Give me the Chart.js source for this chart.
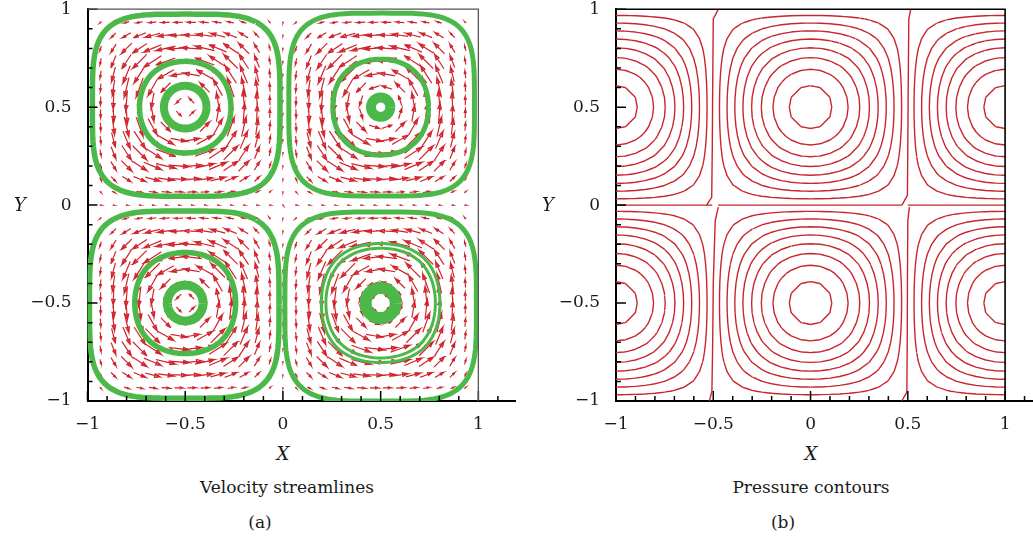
<!DOCTYPE html>
<html>
<head>
<meta charset="utf-8">
<script src="https://cdn.jsdelivr.net/npm/chart.js@4.4.0/dist/chart.umd.min.js"></script>
<style>
    body { margin: 0; width: 1033px; height: 542px; overflow: hidden; background: #fff; position: relative;
           font-family: "DejaVu Serif", "Liberation Serif", serif; color: #1a1a1a; }
    canvas { position: absolute; top: -9px; }
    .lbl { position: absolute; transform: translate(-50%, -50%); white-space: nowrap; font-size: 17px; }
    .ax { font-style: italic; font-size: 18px; }
</style>
</head>
<body>
<canvas id="streamChart" width="530" height="445" style="left:0"></canvas>
<canvas id="pressureChart" width="510" height="445" style="left:540px"></canvas>

<div class="lbl ax" style="left:20px;top:204px">Y</div>
<div class="lbl ax" style="left:548px;top:204px">Y</div>
<div class="lbl ax" style="left:283px;top:453px">X</div>
<div class="lbl ax" style="left:811px;top:453px">X</div>
<div class="lbl" style="left:287px;top:487px">Velocity streamlines</div>
<div class="lbl" style="left:811px;top:487px">Pressure contours</div>
<div class="lbl" style="left:260px;top:522px">(a)</div>
<div class="lbl" style="left:783px;top:522px">(b)</div>

<script>
// Vortex centres (upper-left, upper-right, lower-left, lower-right)
const vortexX = [-0.5, 0.5, -0.5, 0.5];
const vortexY = [0.5, 0.5, -0.5, -0.5];

// Outer (near-square) streamline of each vortex: centre and half extents
const outerX = [-0.495, 0.505, -0.505, 0.5];
const outerY = [0.51, 0.513, -0.508, -0.518];
const outerHalfW = [0.48, 0.475, 0.485, 0.49];
const outerHalfH = [0.465, 0.467, 0.478, 0.483];

// Inner streamline levels: middle circle(s), inner ring
const streamUL = [0.742, 0.942];
const streamUR = [0.718, 0.988];
const streamLL = [0.689, 0.959];
const streamLR = [0.578, 0.637, 0.971];

// Velocity vector grid
const arrowX = [-0.933, -0.867, -0.8, -0.733, -0.667, -0.6, -0.533, -0.467, -0.4, -0.333, -0.267, -0.2, -0.133, -0.067, 0,
                0.067, 0.133, 0.2, 0.267, 0.333, 0.4, 0.467, 0.533, 0.6, 0.667, 0.733, 0.8, 0.867, 0.933];
const arrowY = arrowX.slice();

// Arrow length against stream-function level
const speedLevel = [0, 0.05, 0.2, 0.35, 0.6, 0.8, 0.93, 1];
const arrowLength = [0.008, 0.012, 0.042, 0.078, 0.108, 0.102, 0.062, 0.032];

// Pressure field sample grid and contour levels
const pressureGrid = [-1, -0.95, -0.9, -0.85, -0.8, -0.75, -0.7, -0.65, -0.6, -0.55, -0.5, -0.45, -0.4, -0.35,
                      -0.3, -0.25, -0.2, -0.15, -0.1, -0.05, 0, 0.05, 0.1, 0.15, 0.2, 0.25, 0.3, 0.35, 0.4,
                      0.45, 0.5, 0.55, 0.6, 0.65, 0.7, 0.75, 0.8, 0.85, 0.9, 0.95, 1];
const pressureLevels = [0.1, 0.22, 0.34, 0.46, 0.58, 0.7, 0.82, 0.94,
                        -0.1, -0.22, -0.34, -0.46, -0.58, -0.7, -0.82, -0.94];

// Zero pressure lines as traced in the picture
const zeroUpLeftX = [-0.474, -0.5, -0.503, -0.505, -0.508, -0.534];
const zeroUpLeftY = [1, 0.95, 0.6, 0.3, 0.04, 0];
const zeroLowLeftX = [-0.474, -0.49, -0.5, -0.503, -0.507, -0.52];
const zeroLowLeftY = [-0.01, -0.08, -0.4, -0.7, -0.95, -1];
const zeroUpRightX = [0.515, 0.505, 0.502, 0.5, 0.498, 0.47];
const zeroUpRightY = [1, 0.95, 0.6, 0.3, 0.05, 0];
const zeroLowRightX = [0.508, 0.5, 0.498, 0.497, 0.495, 0.469];
const zeroLowRightY = [-0.01, -0.08, -0.4, -0.7, -0.955, -1];
const zeroMidX = [-1, -0.505, null, -0.475, 0.47, null, 0.5, 1];
const zeroMidY = [0, 0, null, 0, 0, null, 0, 0];

// styles
const GREEN = '#4cb84a';
const ARROW_RED = '#d0232c';
const LINE_RED = '#c9252c';
const outerWidths = [5.5, 5, 5.5, 5];
const streamWidths = [[5.5, 8], [5, 10], [5.5, 9], [3, 3, 12]];
const tickFont = { family: '"DejaVu Serif", "Liberation Serif", serif', size: 17 };

function cellStream(du, dv) {
    return Math.cos(Math.PI * du) * Math.cos(Math.PI * dv);
}

// closed streamline around a vortex centre at a given level
function levelCurve(cx, cy, level) {
    const pts = [];
    for (let a = 0; a <= 360; a += 3) {
        const t = a * Math.PI / 180, c = Math.cos(t), s = Math.sin(t);
        let lo = 0, hi = 0.5 / Math.max(Math.abs(c), Math.abs(s));
        for (let k = 0; k < 30; k++) {
            const m = (lo + hi) / 2;
            if (cellStream(m * c, m * s) > level) lo = m; else hi = m;
        }
        pts.push({ x: cx + lo * c, y: cy + lo * s });
    }
    return pts;
}

// rounded-square outer loop
function squareLoop(cx, cy, a, b) {
    const pts = [];
    for (let d = 0; d <= 360; d += 3) {
        const t = d * Math.PI / 180, c = Math.cos(t), s = Math.sin(t);
        pts.push({ x: cx + a * Math.sign(c) * Math.sqrt(Math.abs(c)), y: cy + b * Math.sign(s) * Math.sqrt(Math.abs(s)) });
    }
    return pts;
}

function lookup(xs, ys, v) {
    if (v <= xs[0]) return ys[0];
    for (let i = 1; i < xs.length; i++) {
        if (v <= xs[i]) {
            const f = (v - xs[i - 1]) / (xs[i] - xs[i - 1]);
            return ys[i - 1] + f * (ys[i] - ys[i - 1]);
        }
    }
    return ys[ys.length - 1];
}

// arrows: shaft + head, broken by gaps
function buildArrows() {
    const pts = [];
    arrowX.forEach(x => {
        arrowY.forEach(y => {
            const cx = x < 0 ? -0.5 : 0.5, cy = y < 0 ? -0.5 : 0.5;
            const du = x - cx, dv = y - cy;
            let vx = -Math.cos(Math.PI * du) * Math.sin(Math.PI * dv);
            let vy = Math.sin(Math.PI * du) * Math.cos(Math.PI * dv);
            const n = Math.hypot(vx, vy) || 1;
            vx /= n; vy /= n;
            const len = lookup(speedLevel, arrowLength, Math.max(0, cellStream(du, dv)));
            const tx = x - vx * len / 2, ty = y - vy * len / 2;
            const hx = x + vx * len / 2, hy = y + vy * len / 2;
            const h = Math.min(0.35 * len, 0.028), w = 0.33 * h;
            pts.push({ x: tx, y: ty }, { x: hx, y: hy },
                { x: hx - vx * h - vy * w, y: hy - vy * h + vx * w },
                { x: hx - vx * h + vy * w, y: hy - vy * h - vx * w },
                { x: hx, y: hy }, { x: 0, y: null });
        });
    });
    return pts;
}

function pressure(x, y) {
    return Math.cos(Math.PI * x) * Math.sin(Math.PI * y);
}

// marching squares over the pressure grid
function buildContours() {
    const pts = [];
    const g = pressureGrid;
    pressureLevels.forEach(L => {
        for (let i = 0; i < g.length - 1; i++) {
            for (let j = 0; j < g.length - 1; j++) {
                const c = [[g[i], g[j]], [g[i + 1], g[j]], [g[i + 1], g[j + 1]], [g[i], g[j + 1]]];
                const v = c.map(p => pressure(p[0], p[1]));
                const cross = [];
                for (let e = 0; e < 4; e++) {
                    const a = e, b = (e + 1) % 4;
                    if ((v[a] - L) * (v[b] - L) < 0) {
                        const f = (L - v[a]) / (v[b] - v[a]);
                        cross.push({ x: c[a][0] + f * (c[b][0] - c[a][0]), y: c[a][1] + f * (c[b][1] - c[a][1]) });
                    }
                }
                if (cross.length >= 2) pts.push(cross[0], cross[1], { x: 0, y: null });
                if (cross.length === 4) pts.push(cross[2], cross[3], { x: 0, y: null });
            }
        }
    });
    return pts;
}

function zip(xs, ys) {
    return xs.map((x, i) => ({ x: x === null ? 0 : x, y: ys[i] }));
}

function axisLabel(value) {
    const v = Math.round(value * 10) / 10;
    if (Math.abs(v * 2 - Math.round(v * 2)) > 1e-6) return '';
    return (v < 0 ? '\u2212' : '') + Math.abs(v);
}

// inward ticks and thin top/right frame
const framePlugin = {
    id: 'frame',
    afterDraw(chart, args, opts) {
        const ctx = chart.ctx, xs = chart.scales.x, ys = chart.scales.y;
        const isMajor = v => Math.abs(v * 2 - Math.round(v * 2)) < 1e-6;
        ctx.save();
        ctx.strokeStyle = '#000';
        ctx.lineWidth = 1.5;
        ctx.beginPath();
        xs.ticks.forEach(t => {
            const px = xs.getPixelForValue(t.value), len = isMajor(t.value) ? 10 : 5;
            ctx.moveTo(px, ys.bottom);
            ctx.lineTo(px, ys.bottom - len);
        });
        ys.ticks.forEach(t => {
            const py = ys.getPixelForValue(t.value), len = isMajor(t.value) ? 10 : 5;
            ctx.moveTo(xs.left, py);
            ctx.lineTo(xs.left + len, py);
        });
        ctx.stroke();
        ctx.strokeStyle = opts.color;
        ctx.lineWidth = opts.width;
        ctx.beginPath();
        ctx.moveTo(xs.getPixelForValue(-1), ys.getPixelForValue(1));
        ctx.lineTo(xs.getPixelForValue(1), ys.getPixelForValue(1));
        ctx.lineTo(xs.getPixelForValue(1), ys.getPixelForValue(-1));
        ctx.stroke();
        ctx.restore();
    }
};

function makeOptions(xMax, yWidth, rightPad, frameColor, frameWidth) {
    return {
        responsive: false,
        animation: false,
        events: [],
        layout: { padding: { top: 11, right: rightPad, left: 0, bottom: 0 } },
        plugins: { legend: { display: false }, tooltip: { enabled: false }, frame: { color: frameColor, width: frameWidth } },
        scales: {
            x: {
                type: 'linear', min: -1, max: xMax,
                grid: { display: false },
                border: { display: true, color: '#000', width: 2 },
                ticks: { stepSize: 0.1, includeBounds: false, autoSkip: false, maxRotation: 0, minRotation: 0,
                         padding: 5, color: '#1a1a1a', font: tickFont, callback: axisLabel },
                afterFit: s => { s.height = 35; }
            },
            y: {
                type: 'linear', min: -1, max: 1,
                grid: { display: false },
                border: { display: true, color: '#000', width: 2 },
                ticks: { stepSize: 0.1, autoSkip: false, padding: 8, color: '#1a1a1a', font: tickFont, callback: axisLabel },
                afterFit: s => { s.width = yWidth; }
            }
        }
    };
}

// Velocity streamlines chart
const streamSets = [];
outerX.forEach((cx, vi) => {
    streamSets.push({
        data: squareLoop(cx, outerY[vi], outerHalfW[vi], outerHalfH[vi]),
        showLine: true, borderColor: GREEN, borderWidth: outerWidths[vi],
        pointRadius: 0, tension: 0.000001, borderJoinStyle: 'round', order: 1
    });
});
[streamUL, streamUR, streamLL, streamLR].forEach((levels, vi) => {
    levels.forEach((lv, li) => {
        streamSets.push({
            data: levelCurve(vortexX[vi], vortexY[vi], lv),
            showLine: true, borderColor: GREEN, borderWidth: streamWidths[vi][li],
            pointRadius: 0, tension: 0.000001, borderJoinStyle: 'round', order: 1
        });
    });
});
streamSets.push({
    data: buildArrows(), showLine: true, borderColor: ARROW_RED, borderWidth: 1.2,
    pointRadius: 0, tension: 0.000001, spanGaps: false, order: 2
});

new Chart(document.getElementById('streamChart'), {
    type: 'scatter',
    data: { datasets: streamSets },
    options: makeOptions(1.19, 87.5, 14.5, '#555', 1.3),
    plugins: [framePlugin]
});

// Pressure contours chart
const pressureSets = [
    { data: buildContours() },
    { data: zip(zeroUpLeftX, zeroUpLeftY) },
    { data: zip(zeroLowLeftX, zeroLowLeftY) },
    { data: zip(zeroUpRightX, zeroUpRightY) },
    { data: zip(zeroLowRightX, zeroLowRightY) },
    { data: zip(zeroMidX, zeroMidY) }
].map(ds => Object.assign(ds, {
    showLine: true, borderColor: LINE_RED, borderWidth: 1.4, pointRadius: 0,
    tension: 0.000001, spanGaps: false
}));

new Chart(document.getElementById('pressureChart'), {
    type: 'scatter',
    data: { datasets: pressureSets },
    options: makeOptions(1.2, 76, 6, '#000', 1.6),
    plugins: [framePlugin]
});
</script>
</body>
</html>
